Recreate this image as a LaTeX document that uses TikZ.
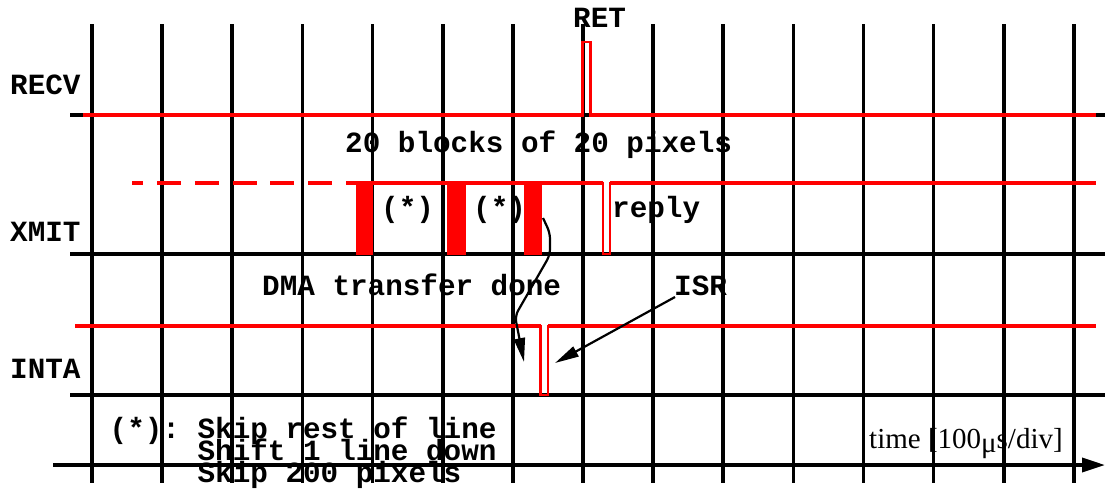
\documentclass[tikz,border=0pt]{standalone}
\usepackage{fontspec}
\setmonofont{Liberation Mono}
\newfontfamily\serifT{Liberation Serif}
\usetikzlibrary{arrows.meta}
\definecolor{sigred}{RGB}{255,0,0}
\begin{document}
\begin{tikzpicture}[x=1pt,y=-1pt,
  gridline/.style={line width=3.6pt},
  sig/.style={sigred, line width=3.3pt},
  pulse/.style={sigred, line width=2.4pt},
  lbl/.style={font=\ttfamily\bfseries\fontsize{29.3}{29.3}\selectfont, inner sep=0pt, anchor=base west},
  conn/.style={line width=2.2pt, -{Triangle[length=24pt,width=11pt]}}]
\useasboundingbox (0,0) rectangle (1105,490);
% labels
\node[lbl] (recv) at (10,94) {RECV};
\node[lbl] (xmit) at (10,241) {XMIT};
\node[lbl] (inta) at (10,378) {INTA};
\node[lbl] (ret) at (573,27) {RET};
\node[lbl] (blocks) at (345,152) {20 blocks of 20 pixels};
\node[lbl] (skipA) at (381,217) {(*)};
\node[lbl] (skipB) at (473,217) {(*)};
\node[lbl] (reply) at (612,217) {reply};
\node[lbl] (dma) at (262,295) {DMA transfer done};
\node[lbl] (isr) at (674,295) {ISR};
\node[lbl] (legA) at (109.5,438) {(*): Skip rest of line};
\node[lbl] (legB) at (109.5,460) {\phantom{(*): }Shift 1 line down};
\node[lbl] (legC) at (109.5,482) {\phantom{(*): }Skip 200 pixels};
\node[font=\serifT\fontsize{29}{29}\selectfont, inner sep=0pt, anchor=base west] (time) at (869,448) {time [100\raisebox{-4pt}{μ}s/div]};
% grid
\foreach \i in {0,...,14} \draw[gridline] (92+70.14*\i,24) -- (92+70.14*\i,483);
\draw[gridline] (70,115) -- (1105,115);
\draw[gridline] (70,254) -- (1105,254);
\draw[gridline] (70,395) -- (1105,395);
\draw[gridline, -{Triangle[length=23pt,width=14pt]}] (53,465) -- (1105,465);
% RECV
\draw[sig] (83,115) -- (582.5,115);
\draw[sig] (590.5,115) -- (1096,115);
\draw[pulse] (582.5,116.5) -- (582.5,42) -- (590.5,42) -- (590.5,116.5);
% XMIT
\draw[sig, dash pattern=on 24pt off 13.8pt, dash phase=12.8pt] (132,183) -- (346,183);
\draw[sig] (346,183) -- (603,183);
\draw[pulse] (603,181.5) -- (603,254) -- (610,254) -- (610,181.5);
\draw[sig] (610,183) -- (1096,183);
\fill[sigred] (356,181.5) rectangle (373,255);
\fill[sigred] (447,181.5) rectangle (466,255);
\fill[sigred] (524,181.5) rectangle (542,255);
% INTA
\draw[sig] (75,326) -- (540.5,326);
\draw[sig] (548,326) -- (1096,326);
\draw[pulse] (540.5,324.5) -- (540.5,395) -- (548,395) -- (548,324.5);
% arrows
\coordinate (dmaS) at (543,218);
\coordinate (dmaE) at (524,362);
\draw[conn, rounded corners=6pt] (dmaS) -- (550,233) -- (550,255) -- (515,316) -- (dmaE);
\coordinate (isrS) at (675,297);
\coordinate (isrE) at (555,363);
\draw[conn] (isrS) -- (isrE);
\end{tikzpicture}
\end{document}
